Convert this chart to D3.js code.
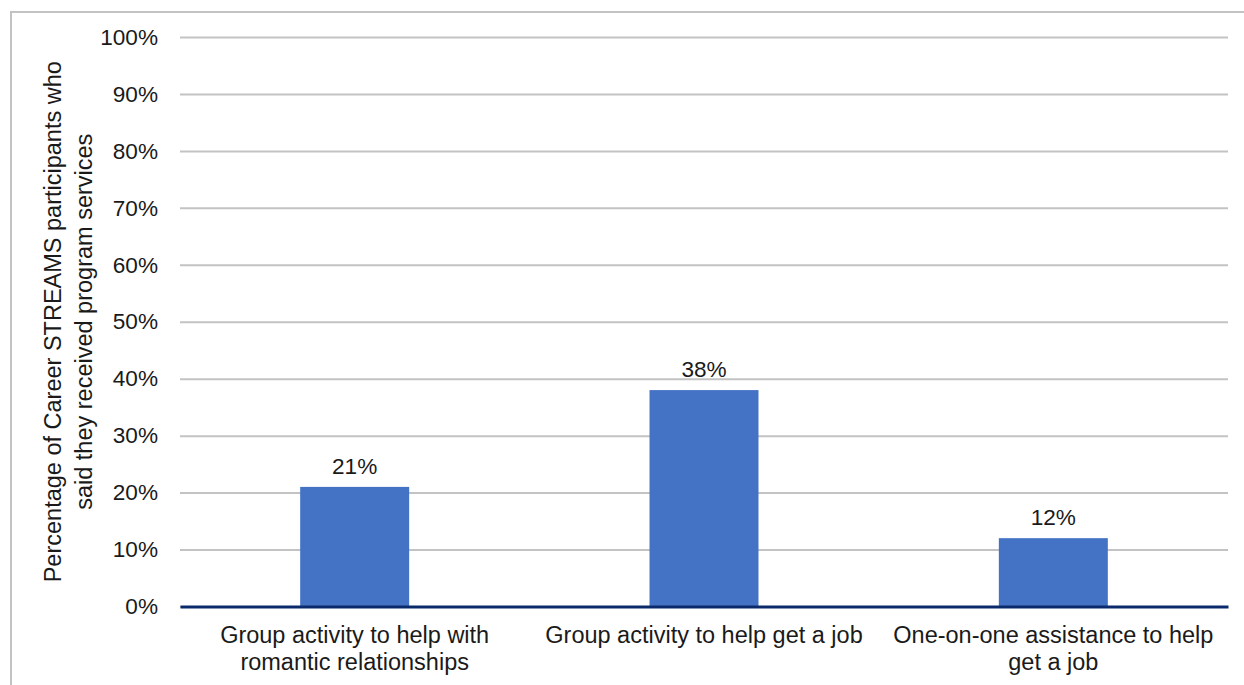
<!DOCTYPE html>
<html>
<head>
<meta charset="utf-8">
<script src="https://cdn.jsdelivr.net/npm/d3@7"></script>
<style>
  html, body { margin: 0; padding: 0; background: #fff; }
  svg { display: block; font-family: "Liberation Sans", Arial, sans-serif; }
</style>
</head>
<body>
<svg id="chart" width="1244" height="685"></svg>
<script>
// Service categories (each label split into display lines)
const categories = [
  "Group activity to help with romantic relationships",
  "Group activity to help get a job",
  "One-on-one assistance to help get a job"
];
const categoryLines = [
  ["Group activity to help with", "romantic relationships"],
  ["Group activity to help get a job"],
  ["One-on-one assistance to help", "get a job"]
];
// Share of participants who said they received each service (%)
const values = [21, 38, 12];
// Y-axis ticks (%)
const yTicks = [0, 10, 20, 30, 40, 50, 60, 70, 80, 90, 100];
const yTitleLines = [
  "Percentage of Career STREAMS participants who",
  "said they received program services"
];

const svg = d3.select("#chart");
const plot = { left: 180, right: 1228, top: 37, bottom: 606.5 };

// Outer chart frame (top and left edges visible)
svg.append("path")
  .attr("d", `M11,700 L11,12 L1260,12`)
  .attr("fill", "none")
  .attr("stroke", "#c3c3c3")
  .attr("stroke-width", 2);

const x = d3.scaleBand()
  .domain(categories)
  .range([plot.left, plot.right])
  .padding(0);
const barWidth = x.bandwidth() * 0.312;

const y = d3.scaleLinear()
  .domain([0, 100])
  .range([plot.bottom, plot.top]);

// Horizontal gridlines and tick labels
const yAxis = d3.axisLeft(y)
  .tickValues(yTicks)
  .tickSize(-(plot.right - plot.left))
  .tickPadding(22)
  .tickFormat(d => d + "%");

const gy = svg.append("g")
  .attr("transform", `translate(${plot.left},0)`)
  .call(yAxis);
gy.select(".domain").remove();
gy.selectAll(".tick line")
  .attr("stroke", "#c3c3c3")
  .attr("stroke-width", 2);
gy.selectAll(".tick text")
  .attr("fill", "#1a1a1a")
  .style("font-size", "22.6px");

// Bars
svg.append("g")
  .selectAll("rect")
  .data(values)
  .join("rect")
  .attr("x", (d, i) => x(categories[i]) + (x.bandwidth() - barWidth) / 2)
  .attr("y", d => y(d))
  .attr("width", barWidth)
  .attr("height", d => y(0) - y(d))
  .attr("fill", "#4472c4");

// Value labels above bars
svg.append("g")
  .selectAll("text")
  .data(values)
  .join("text")
  .attr("x", (d, i) => x(categories[i]) + x.bandwidth() / 2)
  .attr("y", d => y(d) - 13)
  .attr("text-anchor", "middle")
  .attr("fill", "#1a1a1a")
  .style("font-size", "22.6px")
  .text(d => d + "%");

// Baseline (category axis)
const xAxis = d3.axisBottom(x).tickSize(0).tickFormat("");
const gx = svg.append("g")
  .attr("transform", `translate(0,${y(0)})`)
  .call(xAxis);
gx.select(".domain")
  .attr("stroke", "#0b2a6b")
  .attr("stroke-width", 3);

// Category labels, wrapped
const catG = svg.append("g")
  .selectAll("text")
  .data(categoryLines)
  .join("text")
  .attr("text-anchor", "middle")
  .attr("fill", "#1a1a1a")
  .style("font-size", "23.5px");
catG.each(function(lines, i) {
  const t = d3.select(this);
  lines.forEach((ln, j) => {
    t.append("tspan")
      .attr("x", x(categories[i]) + x.bandwidth() / 2)
      .attr("y", 643 + j * 27)
      .text(ln);
  });
});

// Y-axis title (rotated, two lines)
const yt = svg.append("text")
  .attr("transform", `translate(0,${(plot.top + plot.bottom) / 2}) rotate(-90)`)
  .attr("text-anchor", "middle")
  .attr("fill", "#1a1a1a")
  .style("font-size", "23.5px");
yTitleLines.forEach((ln, j) => {
  yt.append("tspan")
    .attr("x", 0)
    .attr("y", 61 + j * 31)
    .text(ln);
});
</script>
</body>
</html>
